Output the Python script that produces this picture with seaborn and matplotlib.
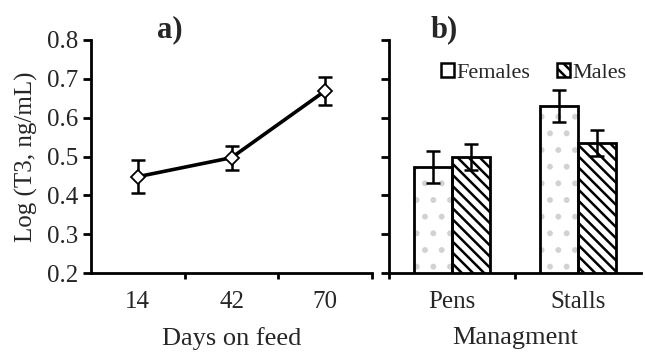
import matplotlib
matplotlib.use("Agg")
import matplotlib.pyplot as plt
from matplotlib.patches import Rectangle, Patch
import numpy as np
import pandas as pd
import seaborn as sns

# Panel a: T3 over time on feed
days = ["14", "42", "70"]
days_mean = [0.448, 0.497, 0.669]
days_se = [0.043, 0.031, 0.037]

# Panel b: T3 by management system and sex
management = ["Pens", "Stalls"]
sexes = ["Females", "Males"]
female_mean = [0.473, 0.630]
female_se = [0.040, 0.042]
male_mean = [0.499, 0.535]
male_se = [0.034, 0.034]

sns.set_theme(style="white")
plt.rcParams["font.family"] = ["Liberation Serif", "DejaVu Serif"]
plt.rcParams["hatch.linewidth"] = 1.8

W, H = 645, 358
fig = plt.figure(figsize=(W / 100, H / 100), dpi=100)

def px_axes(x0, x1, ytop, ybot):
    return fig.add_axes([x0 / W, 1 - ybot / H, (x1 - x0) / W, (ybot - ytop) / H])

ax1 = px_axes(91, 372, 40, 273)
ax2 = px_axes(389, 641, 40, 273)

TICK_FS = 18
LABEL_FS = 18
spine_w = 2.0
err_w = 1.8
yticks = np.arange(0.2, 0.81, 0.1)
for ax in (ax1, ax2):
    for s in ("top", "right"):
        ax.spines[s].set_visible(False)
    for s in ("left", "bottom"):
        ax.spines[s].set_linewidth(spine_w)
        ax.spines[s].set_color("black")
    ax.set_ylim(0.2, 0.8)
    ax.set_yticks(yticks)
    ax.tick_params(axis="y", direction="out", length=6, width=spine_w, color="black",
                   labelsize=TICK_FS, left=True, pad=3)

# ---- Panel a ----
df_a = pd.DataFrame({"day": days, "t3": days_mean})
sns.pointplot(data=df_a, x="day", y="t3", ax=ax1, color="black", markers="D",
              errorbar=None, linewidth=2.6, markersize=7,
              markerfacecolor="white", markeredgecolor="black", markeredgewidth=1.3)
ax1.errorbar(range(len(days)), days_mean, yerr=days_se, fmt="none", ecolor="black",
             elinewidth=err_w, capsize=5, capthick=err_w, zorder=1)
ax1.set_xlim(-0.5, 2.5)
ax1.set_ylim(0.2, 0.8)
ax1.set_yticks(yticks)
ax1.set_yticklabels([f"{v:.1f}" for v in yticks])
ax1.set_xticks([0, 1, 2])
ax1.set_xticks([0.5, 1.5, 2.5], minor=True)
ax1.tick_params(axis="x", which="major", length=0, labelsize=TICK_FS, pad=13)
ax1.tick_params(axis="x", which="minor", direction="out", length=4, width=spine_w,
                color="black", bottom=True)
ax1.set_xlabel("Days on feed", fontsize=LABEL_FS + 1, labelpad=10)
ax1.set_ylabel("Log (T3, ng/mL)", fontsize=LABEL_FS, labelpad=7)
ax1.set_title("a)", fontsize=22, fontweight="bold", pad=2, x=0.28)

# ---- Panel b ----
df_b = pd.DataFrame({
    "mgmt": management * 2,
    "sex": [sexes[0]] * 2 + [sexes[1]] * 2,
    "t3": female_mean + male_mean,
})
sns.barplot(data=df_b, x="mgmt", y="t3", hue="sex", hue_order=sexes, ax=ax2,
            width=0.6, errorbar=None, gap=0, legend=False,
            palette=["white", "white"], edgecolor="black", linewidth=2.0)

bars = list(ax2.patches)
fem_bars, male_bars = bars[:2], bars[2:4]
for p in fem_bars:
    # sparse light speckle texture, then a black outline on top
    p.set_hatch(".")
    p.set_edgecolor("#d2d2d2")
    p.set_linewidth(0)
    ax2.add_patch(Rectangle(p.get_xy(), p.get_width(), p.get_height(),
                            fill=False, ec="black", lw=2.0, zorder=p.get_zorder() + 0.1))
for p in male_bars:
    p.set_hatch("\\\\\\")
    p.set_edgecolor("black")

for group, means, ses in ((fem_bars, female_mean, female_se), (male_bars, male_mean, male_se)):
    xs = [p.get_x() + p.get_width() / 2 for p in group]
    ax2.errorbar(xs, means, yerr=ses, fmt="none", ecolor="black", elinewidth=err_w,
                 capsize=5, capthick=err_w, zorder=5)

ax2.set_xlim(-0.5, 1.5)
ax2.set_ylim(0.2, 0.8)
ax2.set_yticks(yticks)
ax2.set_yticklabels([])
ax2.set_xticks([0, 1])
ax2.set_xticklabels(management)
ax2.set_xticks([-0.5, 0.5], minor=True)
ax2.tick_params(axis="x", which="major", length=0, labelsize=TICK_FS, pad=13)
ax2.tick_params(axis="x", which="minor", direction="out", length=4, width=spine_w,
                color="black", bottom=True)
ax2.set_xlabel("Managment", fontsize=LABEL_FS + 1, labelpad=10)
ax2.set_ylabel("")
ax2.set_title("b)", fontsize=22, fontweight="bold", pad=2, x=0.22)

handles = [Patch(facecolor="white", edgecolor="black", linewidth=1.8),
           Patch(facecolor="white", edgecolor="black", linewidth=1.8, hatch="\\\\\\")]
ax2.legend(handles, sexes, loc="upper left", bbox_to_anchor=(0.17, 0.94), ncol=2,
           frameon=False, fontsize=16, handlelength=0.6, handleheight=0.6,
           handletextpad=0.1, columnspacing=1.2, borderaxespad=0)

fig.savefig("out.png", dpi=100)
